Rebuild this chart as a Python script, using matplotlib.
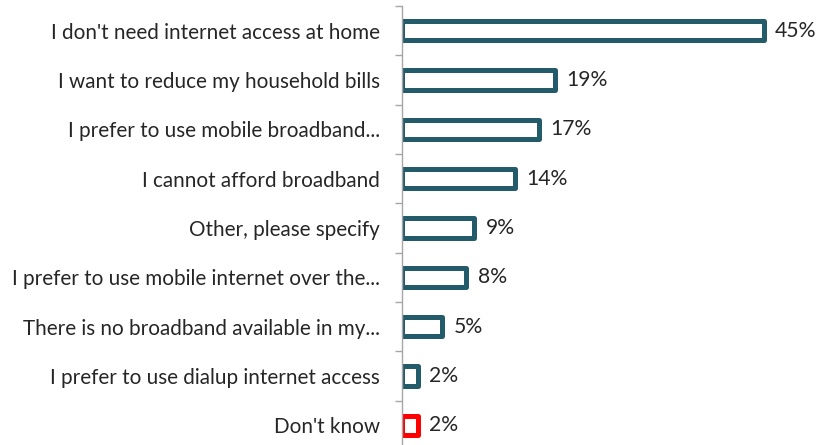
import matplotlib
matplotlib.use("Agg")
import matplotlib.pyplot as plt
import numpy as np

categories = [
    "I don't need internet access at home",
    "I want to reduce my household bills",
    "I prefer to use mobile broadband...",
    "I cannot afford broadband",
    "Other, please specify",
    "I prefer to use mobile internet over the...",
    "There is no broadband available in my...",
    "I prefer to use dialup internet access",
    "Don't know",
]
values = [45, 19, 17, 14, 9, 8, 5, 2, 2]
value_labels = ["45%", "19%", "17%", "14%", "9%", "8%", "5%", "2%", "2%"]
edge_colors = ["#245B6B"] * 8 + ["#FF0000"]

plt.rcParams['font.family'] = ['Lato', 'DejaVu Sans']

fig = plt.figure(figsize=(8.33, 4.45), dpi=100)
ax = fig.add_axes([402/833, 1 - 450/445, 402/833, 444/445])

y = np.arange(len(categories))
bars = ax.barh(y, values, height=0.39, color="white", edgecolor=edge_colors,
               linewidth=3.6, joinstyle="round")
ax.set_ylim(len(categories) - 0.5, -0.5)
ax.set_xlim(0, 50)

for yi, v, lab in zip(y, values, value_labels):
    ax.text(v + 1.4, yi, lab, va="center", ha="left", fontsize=15.2, color="#262626")

ax.set_yticks(y)
ax.set_yticklabels(categories, fontsize=14.9, color="#262626")
ax.tick_params(axis="y", which="major", length=0, pad=16)
ax.set_yticks(np.arange(-0.5, len(categories), 1), minor=True)
ax.tick_params(axis="y", which="minor", length=5, color="#A6A6A6", width=1)
ax.set_xticks([])
for s in ["top", "right", "bottom"]:
    ax.spines[s].set_visible(False)
ax.spines["left"].set_color("#A6A6A6")
ax.spines["left"].set_linewidth(1)

fig.savefig("out.png", dpi=100)
